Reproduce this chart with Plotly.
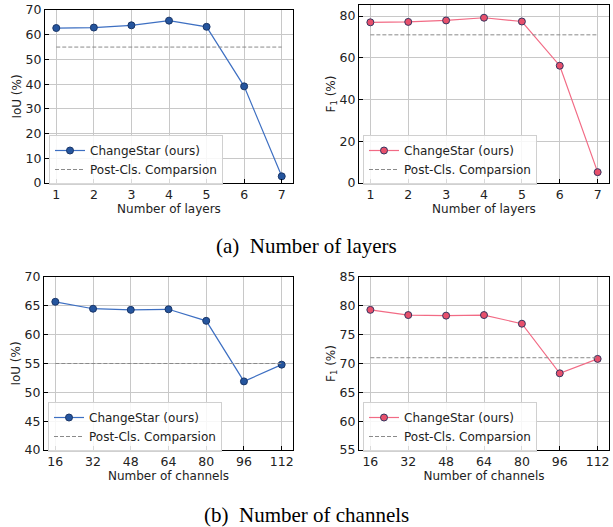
import plotly.graph_objects as go

layers = [1, 2, 3, 4, 5, 6, 7]
channels = [16, 32, 48, 64, 80, 96, 112]
iou_layers = [62.7, 62.9, 63.8, 65.7, 63.2, 39.1, 2.7]
f1_layers = [77.0, 77.2, 77.9, 79.2, 77.4, 56.2, 5.2]
iou_channels = [65.7, 64.5, 64.3, 64.4, 62.4, 51.9, 54.8]
f1_channels = [79.3, 78.4, 78.3, 78.4, 76.9, 68.3, 70.8]
iou_baseline = 55.0
f1_baseline = 71.0

W, H = 613, 527
BLUE_LINE = "#3d6fc2"
BLUE_FILL = "#25559e"
BLUE_EDGE = "#1a3668"
PINK_LINE = "#f26b85"
PINK_FILL = "#e8506c"
PINK_EDGE = "#35355f"
GRID = "#c8c8c8"
FONT = "DejaVu Sans"

fig = go.Figure()

def px_x(p):
    return p / W

def px_y(p):
    return 1 - p / H

panels = [
    (layers, iou_layers, iou_baseline, BLUE_LINE, BLUE_FILL, BLUE_EDGE, (45, 293), (10, 183),
     [0, 70], "IoU (%)", "Number of layers", list(range(0, 71, 10)), [0.7, 7.3]),
    (layers, f1_layers, f1_baseline, PINK_LINE, PINK_FILL, PINK_EDGE, (359, 609), (5, 183),
     [0, 85.3], "F<sub>1</sub> (%)", "Number of layers", list(range(0, 81, 20)), [0.7, 7.3]),
    (channels, iou_channels, iou_baseline, BLUE_LINE, BLUE_FILL, BLUE_EDGE, (44, 293), (277, 450),
     [40, 70], "IoU (%)", "Number of channels", list(range(40, 71, 5)), [11.2, 116.8]),
    (channels, f1_channels, f1_baseline, PINK_LINE, PINK_FILL, PINK_EDGE, (359, 609), (277, 450),
     [55, 85], "F<sub>1</sub> (%)", "Number of channels", list(range(55, 86, 5)), [11.2, 116.8]),
]

for i, (xs, ys, base, lc, fc, ec, xd, yd, yr, yt, xt, yticks, xr) in enumerate(panels):
    n = i + 1
    xa = "x" if n == 1 else f"x{n}"
    ya = "y" if n == 1 else f"y{n}"
    lg = "legend" if n == 1 else f"legend{n}"
    fig.add_trace(go.Scatter(
        x=xs, y=ys, mode="lines+markers", name="ChangeStar (ours)",
        line=dict(color=lc, width=1.2),
        marker=dict(size=7, color=fc, line=dict(color=ec, width=1)),
        xaxis=xa, yaxis=ya, legend=lg,
    ))
    fig.add_trace(go.Scatter(
        x=xs, y=[base] * len(xs), mode="lines", name="Post-Cls. Comparsion",
        line=dict(color="#8a8a8a", width=1, dash="4px,2px"),
        xaxis=xa, yaxis=ya, legend=lg,
    ))
    xkey = "xaxis" if n == 1 else f"xaxis{n}"
    ykey = "yaxis" if n == 1 else f"yaxis{n}"
    fig.update_layout(**{
        xkey: dict(
            domain=[px_x(xd[0]), px_x(xd[1])], anchor=ya, range=xr,
            tickmode="array", tickvals=xs, ticktext=[str(v) for v in xs],
            showgrid=True, gridcolor=GRID, gridwidth=1,
            showline=True, linecolor="black", linewidth=1.2, mirror=True,
            ticks="inside", ticklen=4, tickcolor="black",
            tickfont=dict(family=FONT, size=12.5, color="#222"),
            title=dict(text=xt, font=dict(family=FONT, size=12, color="#222"), standoff=0),
            zeroline=False, automargin=False,
        ),
        ykey: dict(
            domain=[px_y(yd[1]), px_y(yd[0])], anchor=xa, range=yr,
            tickmode="array", tickvals=yticks,
            showgrid=True, gridcolor=GRID, gridwidth=1,
            showline=True, linecolor="black", linewidth=1.2, mirror=True,
            ticks="inside", ticklen=4, tickcolor="black",
            tickfont=dict(family=FONT, size=12.5, color="#222"),
            title=dict(text=yt, font=dict(family=FONT, size=12, color="#222"), standoff=1),
            zeroline=False, automargin=False,
        ),
        lg: dict(
            x=px_x(xd[0] + 4), y=px_y(yd[1] + 2), xanchor="left", yanchor="bottom",
            bgcolor="rgba(255,255,255,0.85)", bordercolor="#d0d0d0", borderwidth=1,
            font=dict(family=FONT, size=12, color="#222"),
            tracegroupgap=0, itemwidth=30,
        ),
    })

fig.add_annotation(text="(a)\u00a0\u00a0Number of layers", x=0.5, y=px_y(246), xref="paper", yref="paper",
                   showarrow=False, font=dict(family="Liberation Serif", size=21, color="black"),
                   xanchor="center", yanchor="middle")
fig.add_annotation(text="(b)\u00a0\u00a0Number of channels", x=0.5, y=px_y(515), xref="paper", yref="paper",
                   showarrow=False, font=dict(family="Liberation Serif", size=21, color="black"),
                   xanchor="center", yanchor="middle")

fig.update_layout(
    width=W, height=H, margin=dict(l=0, r=0, t=0, b=0),
    plot_bgcolor="white", paper_bgcolor="white", showlegend=True,
)

fig.write_html("out.html", config={"displayModeBar": False},
               post_script="document.body.style.margin='0';document.body.style.padding='0';")
